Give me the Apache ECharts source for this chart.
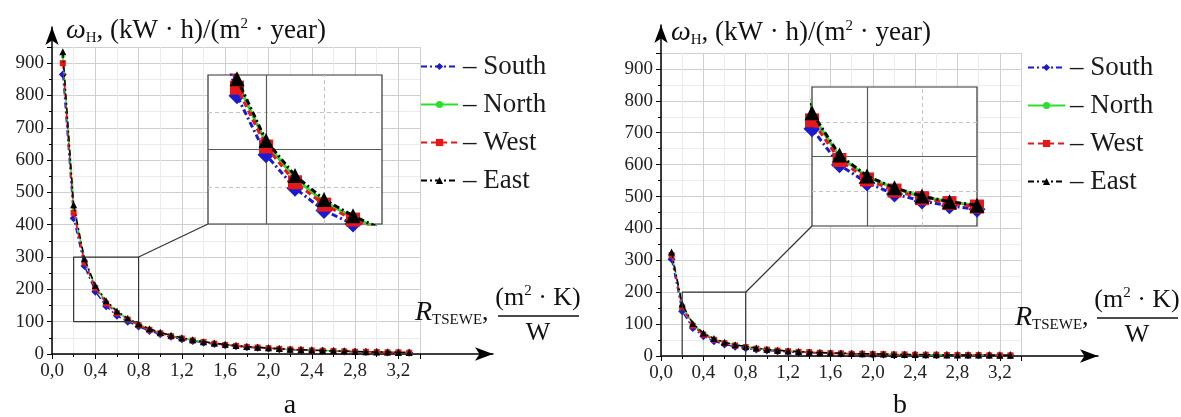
<!DOCTYPE html>
<html>
<head>
<meta charset="utf-8">
<script src="https://cdn.jsdelivr.net/npm/echarts@6/dist/echarts.min.js"></script>
<style>
  html, body { margin: 0; padding: 0; background: #fff; }
  #chart { width: 1181px; height: 417px; }
</style>
</head>
<body>
<div id="chart"></div>
<script>
// thermal resistance R_TSEWE, (m2*K)/W
const rValues = [0.1, 0.2, 0.3, 0.4, 0.5, 0.6, 0.7, 0.8, 0.9, 1.0, 1.1, 1.2, 1.3, 1.4, 1.5, 1.6, 1.7,
  1.8, 1.9, 2.0, 2.1, 2.2, 2.3, 2.4, 2.5, 2.6, 2.7, 2.8, 2.9, 3.0, 3.1, 3.2, 3.3]

// panel a: omega_H, kWh/(m2*year)
const southA = [865, 420, 272, 193, 148, 118, 100, 85, 71, 61, 53, 46, 40, 35, 31, 27, 24, 21, 19, 17,
  15, 13, 12, 11, 10, 9, 8, 7, 6, 6, 5, 5, 4]
const northA = [920, 450, 290, 209, 161, 130, 109, 92, 77, 66, 57, 49, 43, 38, 33, 29, 26, 23, 20, 18,
  16, 14, 13, 12, 11, 10, 9, 8, 7, 6, 6, 5, 5]
const westA = [900, 437, 283, 204, 156, 126, 106, 89, 75, 64, 55, 48, 42, 37, 32, 28, 25, 22, 20, 18,
  16, 14, 13, 11, 10, 9, 8, 7, 7, 6, 5, 5, 4]
const eastA = [935, 462, 295, 212, 165, 133, 111, 93, 78, 67, 58, 50, 44, 38, 34, 30, 26, 23, 21, 19,
  17, 15, 13, 12, 11, 10, 9, 8, 7, 6, 6, 5, 5]

// panel b
const southB = [303, 140, 88, 62, 46, 36, 29, 24, 20, 17, 15, 13, 11, 10, 9, 8, 7, 6, 6, 5,
  5, 4, 4, 4, 3, 3, 3, 3, 2, 2, 2, 2, 2]
const northB = [322, 160, 100, 71, 54, 42, 35, 29, 24, 21, 18, 16, 14, 12, 11, 10, 9, 8, 7, 6,
  6, 5, 5, 4, 4, 4, 3, 3, 3, 3, 3, 2, 2]
const westB = [316, 152, 95, 67, 51, 40, 33, 28, 23, 20, 17, 15, 13, 12, 10, 9, 8, 7, 7, 6,
  6, 5, 5, 4, 4, 4, 3, 3, 3, 3, 2, 2, 2]
const eastB = [326, 163, 102, 72, 55, 43, 35, 30, 25, 21, 18, 16, 14, 12, 11, 10, 9, 8, 7, 7,
  6, 5, 5, 5, 4, 4, 3, 3, 3, 3, 3, 2, 2]

const names = ['South', 'North', 'West', 'East']

// zoomed window of each inset: [xmin, xmax], [ymin, ymax]
const zoomXA = [0.2, 0.8]
const zoomYA = [100, 300]
const zoomXB = [0.2, 0.8]
const zoomYB = [0, 200]

const FONT = 'Liberation Serif'
const look = {
  South: { color: '#1a1ad0', symbol: 'diamond', dash: [6, 3, 2, 3], size: 8, big: 17 },
  North: { color: '#2ede2e', symbol: 'circle', dash: 'solid', size: 4, big: 5 },
  West: { color: '#e81818', symbol: 'rect', dash: [6, 4], size: 6, big: 14 },
  East: { color: '#000000', symbol: 'triangle', dash: [6, 3, 2, 3], size: 7, big: 15 }
}

const makeSeries = function (name, values, axisIndex, inset) {
  const s = look[name]
  const k = names.indexOf(name)
  return {
    type: 'line',
    name: name,
    xAxisIndex: axisIndex,
    yAxisIndex: axisIndex,
    data: rValues.map((r, i) => [r, values[i]]),
    symbol: s.symbol,
    symbolSize: inset ? s.big : s.size,
    showAllSymbol: true,
    lineStyle: { color: s.color, width: inset ? 3 : 1.5, type: s.dash },
    itemStyle: { color: s.color },
    clip: true,
    silent: true,
    z: inset ? 13 + k : 2 + k
  }
}

const commaLabel = v => v.toFixed(1).replace('.', ',')

const mainX = function (gridIndex) {
  return {
    type: 'value', gridIndex: gridIndex, min: 0, max: 3.4, interval: 0.4,
    axisLine: { show: false },
    axisTick: { show: true, length: 5, lineStyle: { color: '#000' } },
    minorTick: { show: true, splitNumber: 2, length: 3, lineStyle: { color: '#000' } },
    axisLabel: {
      fontFamily: FONT, fontSize: 19, color: '#222', margin: 8,
      formatter: v => (v < 3.3 ? commaLabel(v) : '')
    },
    splitLine: { show: true, lineStyle: { color: '#cfcfcf', width: 1 } },
    minorSplitLine: { show: true, lineStyle: { color: '#ececec', width: 1 } }
  }
}

const mainY = function (gridIndex) {
  return {
    type: 'value', gridIndex: gridIndex, min: 0, max: 950, interval: 100,
    axisLine: { show: false },
    axisTick: { show: true, length: 5, lineStyle: { color: '#000' } },
    minorTick: { show: true, splitNumber: 2, length: 3, lineStyle: { color: '#000' } },
    axisLabel: {
      fontFamily: FONT, fontSize: 19, color: '#222', margin: 8,
      formatter: v => (v <= 900 ? String(v) : '')
    },
    splitLine: { show: true, lineStyle: { color: '#cfcfcf', width: 1 } },
    minorSplitLine: { show: true, lineStyle: { color: '#ececec', width: 1 } }
  }
}

const insetAxis = function (gridIndex, range) {
  return { type: 'value', gridIndex: gridIndex, min: range[0], max: range[1], show: false }
}

const arrowAxis = function (gridIndex) {
  return {
    type: 'value', gridIndex: gridIndex, min: 0, max: 1, z: 3,
    axisLine: {
      show: true, symbol: ['none', 'arrow'], symbolSize: [10, 18],
      lineStyle: { color: '#000', width: 1.5 }
    },
    axisTick: { show: false },
    axisLabel: { show: false },
    splitLine: { show: false }
  }
}

// invisible carrier series for the inset's own grid lines
const insetGuides = function (axisIndex, values, solid, dashed) {
  const solidStyle = { color: '#5a5a5a', type: 'solid', width: 1.2 }
  const dashStyle = { color: '#c4c4c4', type: [4, 3], width: 1 }
  return {
    type: 'line', xAxisIndex: axisIndex, yAxisIndex: axisIndex, z: 11, silent: true,
    data: rValues.map((r, i) => [r, values[i]]),
    symbol: 'none', lineStyle: { opacity: 0 },
    markLine: {
      z: 11, silent: true, symbol: 'none', animation: false, label: { show: false },
      data: [
        { xAxis: dashed[0], lineStyle: dashStyle },
        { yAxis: dashed[1], lineStyle: dashStyle },
        { yAxis: dashed[2], lineStyle: dashStyle },
        { xAxis: solid[0], lineStyle: solidStyle },
        { yAxis: solid[1], lineStyle: solidStyle }
      ]
    }
  }
}

const zoomBox = function (axisIndex, xr, yr) {
  return {
    type: 'line', xAxisIndex: axisIndex, yAxisIndex: axisIndex, silent: true, z: 6,
    symbol: 'none', lineStyle: { color: '#333', width: 1.2 },
    data: [[xr[0], yr[0]], [xr[0], yr[1]], [xr[1], yr[1]], [xr[1], yr[0]], [xr[0], yr[0]]]
  }
}

const legendFor = function (left, top) {
  return {
    data: names, orient: 'vertical', left: left, top: top,
    itemWidth: 37, itemHeight: 9, itemGap: 11, selectedMode: false,
    formatter: n => '\u2013 ' + n,
    textStyle: { fontFamily: FONT, fontSize: 27, color: '#1a1a1a' }
  }
}

const richBase = {
  w: { fontFamily: FONT, fontSize: 28, fontStyle: 'italic', fill: '#111' },
  s: { fontFamily: FONT, fontSize: 15, fill: '#111', padding: [14, 0, 0, 0] },
  p: { fontFamily: FONT, fontSize: 15, fill: '#111', padding: [0, 0, 14, 0] },
  n: { fontFamily: FONT, fontSize: 27, fill: '#111' },
  m: { fontFamily: FONT, fontSize: 26, fill: '#111' }
}

const textEl = function (x, y, text, align, size) {
  return {
    type: 'text', x: x, y: y, silent: true, z: 20,
    style: {
      text: text, fontFamily: FONT, fontSize: size || 26, fill: '#111',
      align: align || 'left', verticalAlign: 'middle', rich: richBase
    }
  }
}

const yTitle = '{w|\u03c9}{s|H}{n|, (kW \u00b7 h)/(m}{p|2}{n| \u00b7 year)}'
const xTitle = '{w|R}{s|TSEWE}{m|, }'
const xUnitTop = '{m|(m}{p|2}{m| \u00b7 K)}'

const fractionLine = function (x1, x2, y) {
  return {
    type: 'line', silent: true, z: 20,
    shape: { x1: x1, y1: y, x2: x2, y2: y },
    style: { stroke: '#111', lineWidth: 1.3 }
  }
}

const chart = echarts.init(document.getElementById('chart'))
chart.setOption({
  animation: false,
  grid: [
    { left: 52, top: 47, width: 368, height: 307 },
    { left: 208, top: 75, width: 174, height: 149, show: true, backgroundColor: '#fff',
      borderColor: '#333', borderWidth: 1.2, z: 10 },
    { left: 52, top: 27, width: 441, height: 327 },
    { left: 661, top: 53, width: 360, height: 303 },
    { left: 812, top: 87, width: 165, height: 139, show: true, backgroundColor: '#fff',
      borderColor: '#333', borderWidth: 1.2, z: 10 },
    { left: 661, top: 25, width: 437, height: 331 }
  ],
  xAxis: [mainX(0), insetAxis(1, zoomXA), arrowAxis(2), mainX(3), insetAxis(4, zoomXB), arrowAxis(5)],
  yAxis: [mainY(0), insetAxis(1, zoomYA), arrowAxis(2), mainY(3), insetAxis(4, zoomYB), arrowAxis(5)],
  legend: [legendFor(415, 48), legendFor(1022, 49)],
  series: [
    makeSeries('South', southA, 0, false),
    makeSeries('North', northA, 0, false),
    makeSeries('West', westA, 0, false),
    makeSeries('East', eastA, 0, false),
    zoomBox(0, zoomXA, zoomYA),
    insetGuides(1, southA, [0.4, 200], [0.6, 150, 250]),
    makeSeries('South', southA, 1, true),
    makeSeries('North', northA, 1, true),
    makeSeries('West', westA, 1, true),
    makeSeries('East', eastA, 1, true),

    makeSeries('South', southB, 3, false),
    makeSeries('North', northB, 3, false),
    makeSeries('West', westB, 3, false),
    makeSeries('East', eastB, 3, false),
    zoomBox(3, zoomXB, zoomYB),
    insetGuides(4, southB, [0.4, 100], [0.6, 50, 150]),
    makeSeries('South', southB, 4, true),
    makeSeries('North', northB, 4, true),
    makeSeries('West', westB, 4, true),
    makeSeries('East', eastB, 4, true)
  ],
  graphic: [
    textEl(66, 31, yTitle),
    textEl(671, 33, yTitle),
    textEl(415, 313, xTitle),
    textEl(538, 298, xUnitTop, 'center'),
    fractionLine(498, 579, 316),
    textEl(538, 333, 'W', 'center'),
    textEl(1015, 318, xTitle),
    textEl(1137, 300, xUnitTop, 'center'),
    fractionLine(1097, 1178, 318),
    textEl(1137, 335, 'W', 'center'),
    textEl(290, 406, 'a', 'center', 28),
    textEl(900, 406, 'b', 'center', 28)
  ]
})

// lines joining each zoom window to its inset
const connector = function (id, mainGrid, insetGrid, xr, yr) {
  const from = chart.convertToPixel({ gridIndex: mainGrid }, [xr[1], yr[1]])
  const to = chart.convertToPixel({ gridIndex: insetGrid }, [xr[0], yr[0]])
  return {
    id: id, type: 'line', silent: true, z: 6,
    shape: { x1: from[0], y1: from[1], x2: to[0], y2: to[1] },
    style: { stroke: '#333', lineWidth: 1.2 }
  }
}

chart.setOption({
  graphic: [
    connector('joinA', 0, 1, zoomXA, zoomYA),
    connector('joinB', 3, 4, zoomXB, zoomYB)
  ]
})
</script>
</body>
</html>
